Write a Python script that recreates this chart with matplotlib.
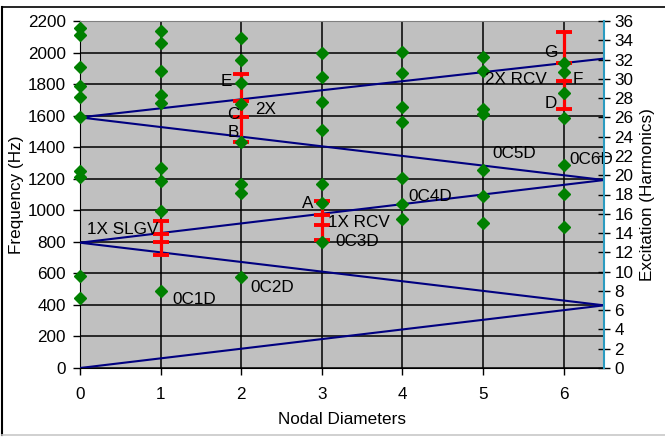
import matplotlib
matplotlib.use("Agg")
import matplotlib.pyplot as plt
from matplotlib.lines import Line2D
import numpy as np

plt.rcParams['font.family'] = ['Liberation Sans', 'DejaVu Sans']

# ---- data ----
HZ_MAX = 2200
HARM_MAX = 36
HZ_PER_HARM = HZ_MAX / HARM_MAX

nd_0 = [2154, 2111, 1910, 1788, 1720, 1589, 1251, 1213, 583, 442]
nd_1 = [2139, 2058, 1883, 1731, 1678, 1266, 1188, 995, 488]
nd_2 = [2094, 1953, 1805, 1674, 1431, 1167, 1112, 575]
nd_3 = [1995, 1847, 1684, 1509, 1167, 1048, 801]
nd_4 = [2006, 1868, 1657, 1558, 1203, 1038, 943]
nd_5 = [1970, 1885, 1642, 1610, 1255, 1090, 917]
nd_6 = [1932, 1879, 1741, 1583, 1287, 1103, 896]
mode_freqs = [nd_0, nd_1, nd_2, nd_3, nd_4, nd_5, nd_6]

# excitation zig-zag (harmonics vs nodal diameter)
zz_nd = [0, 6.5, 0, 6.5, 0, 6.5]
zz_harm = [0, 6.5, 13, 19.5, 26, 32.1]

# excitation ranges (Hz) with cap values
range_nd = [1, 2, 3, 6]
range_caps = [[932, 848, 797, 716],
              [1864, 1695, 1593, 1433],
              [1061, 970, 907, 811],
              [2128, 1936, 1822, 1640]]

labels = ["1X SLGV", "0C1D", "0C2D", "0C3D", "1X RCV", "A", "0C4D", "0C5D",
          "0C6D", "2X RCV", "G", "F", "D", "E", "C", "B", "2X"]
label_nd = [0.09, 1.14, 2.11, 3.17, 3.08, 2.83, 4.07, 5.12, 6.07, 5.03,
            5.84, 6.18, 5.84, 1.81, 1.90, 1.90, 2.17]
label_hz = [875, 437, 513, 801, 921, 1040, 1090, 1363, 1319, 1826,
            2003, 1826, 1680, 1815, 1610, 1496, 1642]
label_ha = ["left", "left", "left", "left", "left", "center", "left", "left",
            "left", "left", "center", "center", "center", "center", "center",
            "center", "left"]

# ---- figure ----
fig = plt.figure(figsize=(6.65, 4.37), dpi=100)
ax = fig.add_axes([80/665, 1-368/437, (604-80)/665, (368-21)/437])
ax.set_facecolor('#C0C0C0')
ax.set_xlim(0, 6.5)
ax.set_ylim(0, HZ_MAX)
ax.set_xticks(range(7))
ax.set_yticks(range(0, HZ_MAX + 1, 200))
ax.grid(True, color='black', linewidth=1.1)
ax.set_axisbelow(True)

fs = 12.3
ax.tick_params(axis='both', labelsize=fs, direction='out', length=5, width=1, color='black')
ax.tick_params(axis='x', pad=9)
ax.tick_params(axis='y', pad=5)
for s in ['left', 'bottom']:
    ax.spines[s].set_color('black')
ax.spines['top'].set_color('#808080')
ax.spines['right'].set_visible(False)

ax.set_xlabel("Nodal Diameters", fontsize=fs, labelpad=7)
ax.set_ylabel("Frequency (Hz)", fontsize=fs, labelpad=3)

# zig-zag excitation lines
ax.plot(zz_nd, np.array(zz_harm) * HZ_PER_HARM, color='#000080', lw=1.5, zorder=3)

# red ranges
for x, caps in zip(range_nd, range_caps):
    ax.vlines(x, min(caps), max(caps), color='red', lw=2.3, zorder=4)
    ax.plot([x] * len(caps), caps, ls='none', marker='_', ms=12, mew=2.8,
            color='red', zorder=4)

# mode frequencies
for nd, freqs in enumerate(mode_freqs):
    ax.plot([nd] * len(freqs), freqs, ls='none', marker='D', ms=6.5,
            color='#008000', mec='#008000', zorder=5, clip_on=False)

for t, x, y, ha in zip(labels, label_nd, label_hz, label_ha):
    ax.text(x, y, t, fontsize=fs, ha=ha, va='center', color='black', zorder=6)

ax2 = ax.twinx()
ax2.set_ylim(0, HARM_MAX)
ax2.set_yticks(range(0, HARM_MAX + 1, 2))
ax2.tick_params(axis='y', labelsize=fs, direction='inout', length=9, width=1,
                color='black', pad=3)
ax2.spines['right'].set_color('#2B9BC0')
ax2.spines['right'].set_linewidth(1.5)
for s in ['left', 'top', 'bottom']:
    ax2.spines[s].set_visible(False)
ax2.set_ylabel("Excitation (Harmonics)", fontsize=fs, labelpad=5)

# figure frame
fig.add_artist(Line2D([2/665, 1], [1-7/437, 1-7/437], color='black', lw=1.2, transform=fig.transFigure))
fig.add_artist(Line2D([2/665, 2/665], [1-7/437, 2/437], color='black', lw=1.5, transform=fig.transFigure))
fig.add_artist(Line2D([2/665, 1], [2/437, 2/437], color='#C8C8C8', lw=1.2, transform=fig.transFigure))

fig.savefig("out.png", dpi=100)
